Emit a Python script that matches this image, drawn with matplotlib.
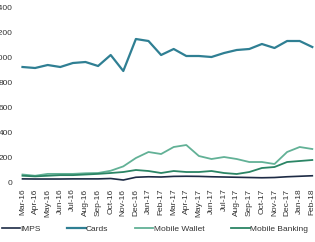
import matplotlib
matplotlib.use("Agg")
import matplotlib.pyplot as plt

months = ["Mar-16", "Apr-16", "May-16", "Jun-16", "Jul-16", "Aug-16", "Sep-16", "Oct-16",
          "Nov-16", "Dec-16", "Jan-17", "Feb-17", "Mar-17", "Apr-17", "May-17", "Jun-17",
          "Jul-17", "Aug-17", "Sep-17", "Oct-17", "Nov-17", "Dec-17", "Jan-18", "Feb-18"]

imps = [25, 24, 24, 24, 25, 25, 25, 28, 16, 38, 42, 40, 45, 46, 45, 42, 40, 38, 36, 34, 36, 42, 46, 50]
cards = [920, 912, 936, 920, 952, 960, 928, 1016, 888, 1144, 1128, 1016, 1064, 1008, 1008, 1000,
         1032, 1056, 1064, 1104, 1072, 1128, 1128, 1080]
mobile_wallet = [60, 50, 65, 65, 65, 70, 72, 90, 125, 192, 240, 224, 280, 296, 208, 184,
                 200, 184, 160, 160, 144, 240, 280, 264]
mobile_banking = [50, 45, 50, 55, 55, 60, 65, 72, 80, 96, 88, 72, 88, 80, 80, 88,
                  72, 64, 80, 112, 120, 160, 168, 176]

plt.rcParams['font.family'] = ['Liberation Sans', 'DejaVu Sans']

fig = plt.figure(figsize=(3.15, 2.42), dpi=100)
ax = fig.add_axes([0.0314, 0.2324, 0.968, 0.7645])

x = range(len(months))
ax.plot(x, imps, color="#1d2b45", lw=1.2, label="IMPS")
ax.plot(x, cards, color="#2f7f93", lw=1.6, label="Cards")
ax.plot(x, mobile_wallet, color="#62b196", lw=1.3, label="Mobile Wallet")
ax.plot(x, mobile_banking, color="#2b8565", lw=1.3, label="Mobile Banking")

ax.set_xlim(-1, 23.2)
ax.set_ylim(-30, 1450)
ax.set_yticks(range(0, 1401, 200))
ax.set_xticks(list(x))
ax.set_xticklabels(months, rotation=90)
ax.tick_params(axis="both", length=0, labelsize=6, colors="#333333")
ax.tick_params(axis="x", pad=2)
ax.tick_params(axis="y", pad=-2)
for s in ax.spines.values():
    s.set_visible(False)

fig.legend(loc="center left", bbox_to_anchor=(0.005, 0.054), ncol=4, frameon=False,
           fontsize=6, handlelength=2.2, handletextpad=0.05, columnspacing=3.2,
           borderpad=0, borderaxespad=0, labelcolor="#333333")

fig.savefig("out.png", dpi=100)
